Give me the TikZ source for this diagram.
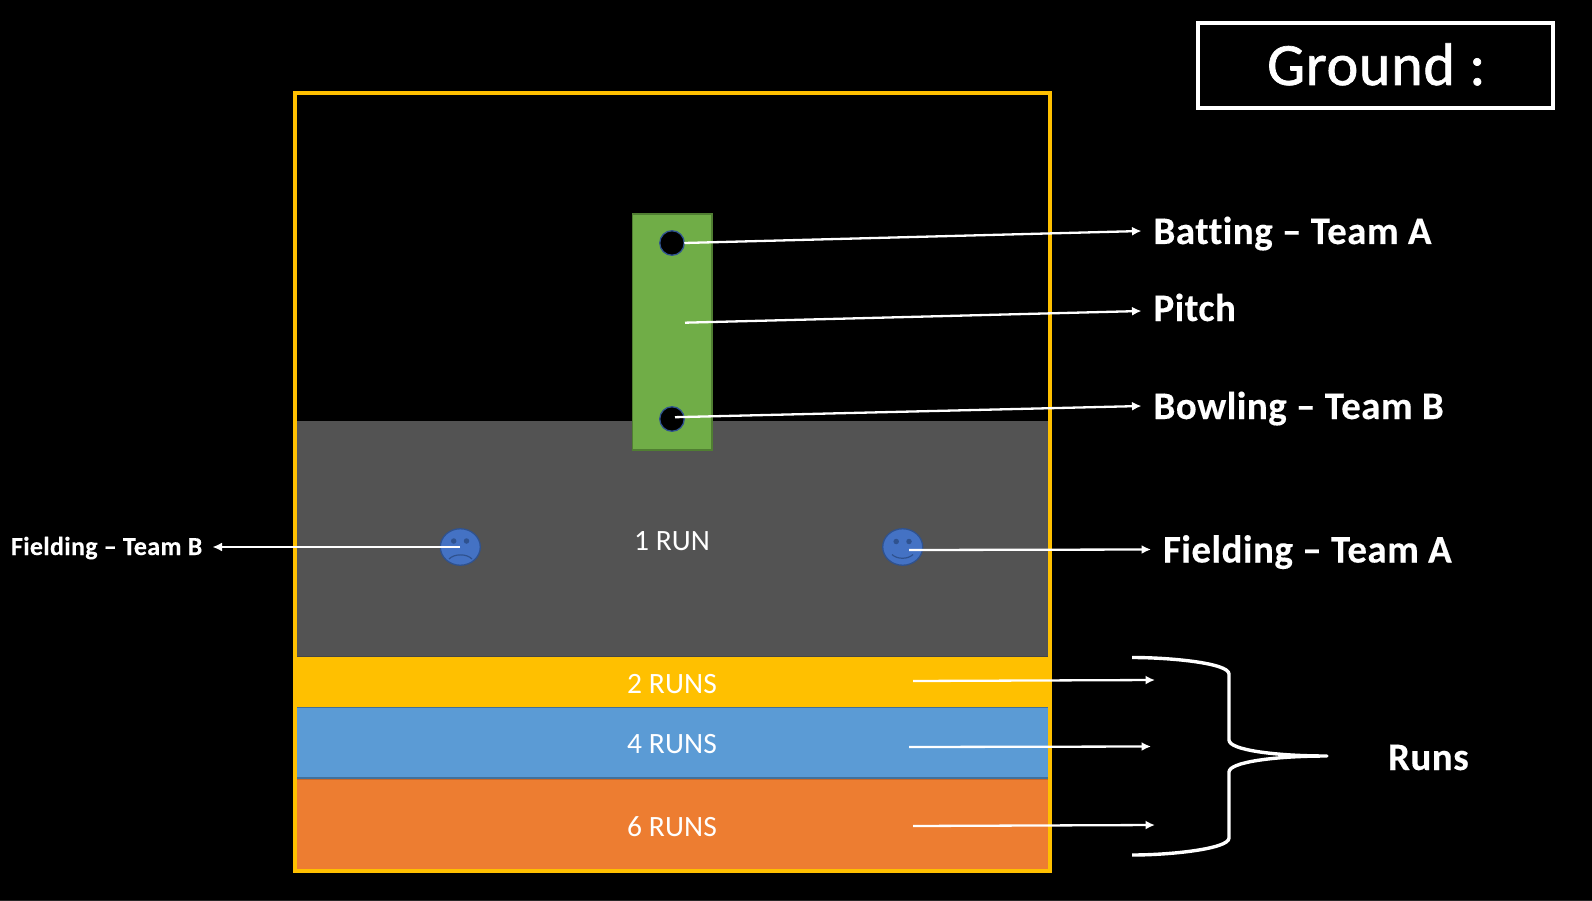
\documentclass[tikz,border=0pt]{standalone}
\usepackage{fontspec}
\setmainfont{Carlito}[Ligatures=CommonOff]
\newfontfamily\lblfont{Carlito}[Ligatures=CommonOff,LetterSpace=1.2,BoldFeatures={FakeBold=0.2}]
\newfontfamily\titlefont{Carlito}[Ligatures=CommonOff,LetterSpace=1.3,FakeBold=1.2]
\newfontfamily\runfont{Carlito}[Ligatures=CommonOff,LetterSpace=0.4]
\usetikzlibrary{arrows.meta,shapes.geometric}
\definecolor{cyellow}{HTML}{FFC000}
\definecolor{cgreen}{HTML}{70AD47}
\definecolor{cgreenb}{HTML}{507E32}
\definecolor{cgray}{HTML}{535353}
\definecolor{cblue}{HTML}{5B9BD5}
\definecolor{cblueb}{HTML}{41719C}
\definecolor{corange}{HTML}{ED7D31}
\definecolor{corangeb}{HTML}{C8682A}
\definecolor{cface}{HTML}{4472C4}
\definecolor{cfaceb}{HTML}{2F528F}
\tikzset{
  block/.style={inner sep=0pt,outer sep=0pt,anchor=north west,rectangle},
  ball/.style={circle,inner sep=0pt,outer sep=0pt,minimum size=24.5pt,fill=black,draw=cfaceb,line width=1.3pt},
  face/.style={ellipse,inner sep=0pt,outer sep=0pt,minimum width=40pt,minimum height=36.5pt,fill=cface,draw=cfaceb,line width=1.3pt},
  eye/.style={circle,inner sep=0pt,outer sep=0pt,minimum size=5.5pt,fill=cfaceb},
  mouth/.style={draw=cfaceb,line width=1.2pt},
  lbl/.style={text=white,inner sep=0pt,outer sep=0pt,anchor=base west,font=\lblfont\fontsize{39}{39}\selectfont\bfseries},
  lblsmall/.style={lbl,font=\lblfont\fontsize{26}{26}\selectfont\bfseries},
  runtxt/.style={text=white,inner sep=0pt,outer sep=0pt,anchor=base,font=\runfont\fontsize{29.5}{30}\selectfont},
  arr/.style={draw=white,line width=2.3pt,-{Latex[length=9.5pt,width=9pt]}},
  brace/.style={draw=white,line width=3.4pt}
}
\begin{document}
\begin{tikzpicture}[x=1pt,y=-1pt]
\fill[black] (0,0) rectangle (1592,901);
\useasboundingbox (0,0) rectangle (1592,901);
\draw[color={rgb,255:red,40;green,40;blue,40},line width=1pt] (0,900.5) -- (1592,900.5);

% ground bands
\node[block,fill=cgray,minimum width=751pt,minimum height=236pt] (gray) at (297,421) {};
\node[block,fill=cyellow,minimum width=751pt,minimum height=50pt] (yellowb) at (297,657) {};
\node[block,fill=cblue,minimum width=751pt,minimum height=72pt] (blueb) at (297,706.5) {};
\node[block,fill=corange,minimum width=751pt,minimum height=91pt] (orangeb) at (297,778.5) {};
\draw[cblueb,line width=1pt] (297,707) -- (1048,707);
\draw[cblueb,line width=1.2pt] (297,778) -- (1048,778);
\draw[corangeb,line width=0.8pt] (297,779.2) -- (1048,779.2);
\draw[color={rgb,255:red,70;green,70;blue,70},line width=1pt] (297,656.8) -- (1048,656.8);
% frame
\node[block,draw=cyellow,line width=4.4pt,minimum width=755pt,minimum height=778pt] (frame) at (295,93) {};

% pitch
\node[block,fill=cgreen,draw=cgreenb,line width=1.4pt,minimum width=79.5pt,minimum height=236pt] (pitch) at (632.5,214) {};
\node[ball] (bat) at (672,243) {};
\node[ball] (bowl) at (672,419) {};
\coordinate (pitchS) at (685,322.7);
\coordinate (bowlS) at (675,417.2);

% faces
\node[face] (sad) at (460.3,547) {};
\node[eye] (sadL) at (453.7,541) {};
\node[eye] (sadR) at (466.5,541) {};
\draw[mouth] (449,559) .. controls (454,553.5) and (467,553.5) .. (472,559);
\node[face] (happy) at (902.7,547) {};
\node[eye] (happyL) at (896.2,541.5) {};
\node[eye] (happyR) at (909,541.5) {};
\draw[mouth] (892,554.5) .. controls (897,559.5) and (908,559.5) .. (913,554.5);
\coordinate (sadS) at (460,547);
\coordinate (happyS) at (909,550);

% run labels
\node[runtxt] (r1) at (672,550) {1 RUN};
\node[runtxt] (r2) at (672,693) {2 RUNS};
\node[runtxt] (r4) at (672,753.5) {4 RUNS};
\node[runtxt] (r6) at (672,836.5) {6 RUNS};

% ground title
\node[block,draw=white,line width=4.2pt,minimum width=355pt,minimum height=85pt] (title) at (1198,23) {};
\node[text=white,inner sep=0pt,anchor=base west,font=\titlefont\fontsize{60}{60}\selectfont] (ground) at (1267,85) {Ground :};

% side labels
\node[lbl] (lbat) at (1153.5,244) {Batting – Team A};
\node[lbl] (lpitch) at (1153.5,321) {Pitch};
\node[lbl] (lbowl) at (1153.5,419) {Bowling – Team B};
\node[lbl] (lfa) at (1163,562.5) {Fielding – Team A};
\node[lblsmall] (lfb) at (11,555) {Fielding – Team B};
\node[lbl] (lruns) at (1388,770) {Runs};

% arrow ends
\coordinate (eBat) at (1141.5,231);
\coordinate (ePitch) at (1141.5,311);
\coordinate (eBowl) at (1141.5,406);
\coordinate (eFa) at (1151,549.5);
\coordinate (eFb) at (212.5,547);
\coordinate (s2) at (913,681);
\coordinate (e2) at (1155,680);
\coordinate (s4) at (909,747);
\coordinate (e4) at (1151,746.5);
\coordinate (s6) at (913,826);
\coordinate (e6) at (1155,825);

\draw[arr] (bat.east) -- (eBat);
\draw[arr] (pitchS) -- (ePitch);
\draw[arr] (bowlS) -- (eBowl);
\draw[arr] (happyS) -- (eFa);
\draw[arr] (sadS) -- (eFb);
\draw[arr] (s2) -- (e2);
\draw[arr] (s4) -- (e4);
\draw[arr] (s6) -- (e6);

% brace
\coordinate (bTop) at (1132,657.5);
\coordinate (bTip) at (1327,756);
\coordinate (bBot) at (1132,855);
\draw[brace,line join=round] (bTop) .. controls (1170,657.5) and (1229,663) .. (1229,674)
  -- (1229,740) .. controls (1229,750) and (1275,756) .. (bTip)
  .. controls (1275,756) and (1229,762) .. (1229,772)
  -- (1229,838) .. controls (1229,849) and (1170,855) .. (bBot);
\end{tikzpicture}
\end{document}
